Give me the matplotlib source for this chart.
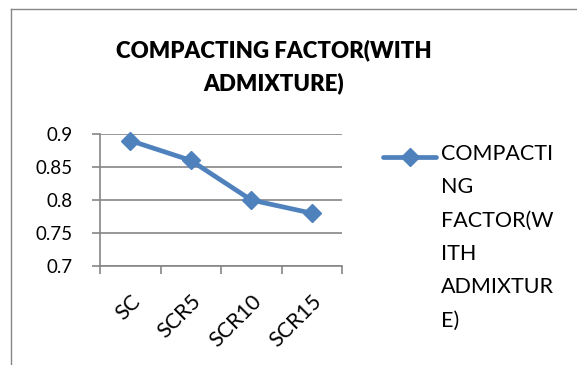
import matplotlib
matplotlib.use("Agg")
import matplotlib.pyplot as plt
from matplotlib.lines import Line2D

plt.rcParams['font.family'] = ['Lato', 'DejaVu Sans']

categories = ["SC", "SCR5", "SCR10", "SCR15"]
values = [0.89, 0.86, 0.80, 0.78]
y_ticks = [0.7, 0.75, 0.8, 0.85, 0.9]
y_tick_labels = ["0.7", "0.75", "0.8", "0.85", "0.9"]
series_name = "COMPACTING FACTOR(WITH ADMIXTURE)"
legend_lines = ["COMPACTI", "NG", "FACTOR(W", "ITH", "ADMIXTUR", "E)"]

W, H = 577, 365
blue = "#4F81BD"
grey = "#868686"

fig = plt.figure(figsize=(W / 100, H / 100), dpi=100)

# outer chart frame (left and top edges)
fig.add_artist(Line2D([11 / W, 11 / W], [0, 1 - 9 / H], color=grey, lw=1.0))
fig.add_artist(Line2D([11 / W, 1], [1 - 9 / H, 1 - 9 / H], color=grey, lw=1.0))

ax = fig.add_axes([100 / W, 1 - 266 / H, 242 / W, 132 / H])
x = list(range(len(categories)))
ax.plot(x, values, color=blue, lw=3.4, marker="D", markersize=9,
        markerfacecolor=blue, markeredgecolor=blue, solid_capstyle="round",
        clip_on=False, zorder=3)

ax.set_xlim(-0.5, len(categories) - 0.5)
ax.set_ylim(0.7, 0.9)
ax.set_yticks(y_ticks)
ax.set_yticklabels(y_tick_labels, fontsize=13.5)
ax.yaxis.grid(True, color=grey, lw=1.2)
ax.set_axisbelow(True)

# category boundary ticks on the x axis
ax.set_xticks([i - 0.5 for i in range(len(categories) + 1)])
ax.set_xticklabels([])
ax.set_xticks(x, minor=True)
ax.set_xticklabels(categories, minor=True, rotation=45, ha="right",
                   rotation_mode="anchor", fontsize=15.5)
ax.tick_params(axis="x", which="minor", length=0, pad=18)
ax.tick_params(axis="x", which="major", length=6, color=grey, width=1.2)
ax.tick_params(axis="y", length=6, color=grey, width=1.2, pad=14)

for s in ["top", "right"]:
    ax.spines[s].set_visible(False)
for s in ["left", "bottom"]:
    ax.spines[s].set_color(grey)
    ax.spines[s].set_linewidth(1.2)

fig.text(274 / W, 1 - 67 / H, "COMPACTING FACTOR(WITH\nADMIXTURE)",
         ha="center", va="center", fontsize=16, fontweight="heavy",
         linespacing=1.6)

# legend entry
ly = 1 - 157 / H
fig.add_artist(Line2D([383 / W, 436 / W], [ly, ly], color=blue, lw=3.4,
                      solid_capstyle="round"))
fig.add_artist(Line2D([409.5 / W], [ly], marker="D", markersize=9,
                      color=blue, lw=0))
fig.text(441 / W, 1 - 144 / H, "\n".join(legend_lines), ha="left", va="top",
         fontsize=15.5, linespacing=1.83)

fig.savefig("out.png", dpi=100)
